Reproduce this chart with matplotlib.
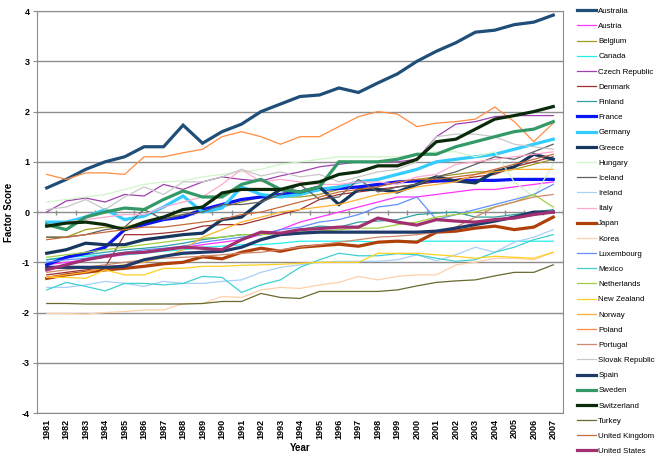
import numpy as np
import matplotlib
matplotlib.use('Agg')
import matplotlib.pyplot as plt

plt.rcParams['font.family'] = ['Liberation Sans', 'DejaVu Sans']

years = [str(y) for y in range(1981, 2008)]

# factor scores per country (1981..2007)
australia = [0.48, 0.65, 0.85, 1.0, 1.1, 1.3, 1.3, 1.73, 1.37, 1.6, 1.75, 2.0, 2.15, 2.3, 2.33, 2.47, 2.38, 2.57, 2.75, 3.0, 3.2, 3.37, 3.58, 3.62, 3.73, 3.78, 3.92]
austria = [-1.05, -1.0, -0.95, -0.9, -0.85, -0.8, -0.75, -0.7, -0.65, -0.6, -0.55, -0.45, -0.35, -0.2, -0.1, 0.0, 0.1, 0.2, 0.3, 0.3, 0.35, 0.4, 0.45, 0.45, 0.5, 0.55, 0.6]
belgium = [-0.5, -0.5, -0.35, -0.3, -0.3, -0.2, -0.1, -0.05, 0.05, 0.1, 0.2, 0.3, 0.3, 0.3, 0.35, 0.45, 0.5, 0.5, 0.6, 0.65, 0.7, 0.75, 0.8, 0.8, 0.85, 0.95, 1.05]
canada = [-0.95, -0.9, -0.88, -0.85, -0.85, -0.82, -0.78, -0.75, -0.7, -0.68, -0.65, -0.65, -0.62, -0.58, -0.58, -0.58, -0.58, -0.6, -0.58, -0.58, -0.58, -0.58, -0.58, -0.58, -0.58, -0.58, -0.58]
czech = [0.0, 0.22, 0.28, 0.2, 0.35, 0.32, 0.55, 0.45, 0.6, 0.7, 0.65, 0.62, 0.72, 0.8, 0.9, 0.95, 1.0, 1.0, 1.0, 1.05, 1.5, 1.75, 1.8, 1.9, 1.92, 1.92, 1.92]
denmark = [-1.25, -1.2, -1.15, -1.1, -0.45, -0.45, -0.42, -0.38, -0.28, -0.25, -0.25, -0.15, -0.05, 0.05, 0.25, 0.35, 0.4, 0.45, 0.5, 0.55, 0.6, 0.65, 0.7, 0.75, 0.9, 1.0, 1.1]
finland = [-0.95, -0.9, -0.85, -0.8, -0.75, -0.72, -0.68, -0.62, -0.55, -0.5, -0.45, -0.45, -0.42, -0.35, -0.28, -0.3, -0.2, -0.18, -0.15, -0.05, -0.02, 0.0, -0.1, -0.1, -0.05, 0.0, 0.05]
france = [-1.05, -0.9, -0.82, -0.7, -0.35, -0.25, -0.15, -0.1, 0.05, 0.15, 0.25, 0.3, 0.35, 0.4, 0.45, 0.47, 0.5, 0.55, 0.6, 0.62, 0.62, 0.62, 0.63, 0.63, 0.65, 0.65, 0.65]
germany = [-0.2, -0.2, -0.1, 0.05, -0.15, -0.08, 0.1, 0.32, 0.0, 0.08, 0.5, 0.35, 0.3, 0.35, 0.45, 0.5, 0.6, 0.65, 0.75, 0.85, 1.0, 1.05, 1.1, 1.15, 1.25, 1.35, 1.45]
greece = [-0.82, -0.75, -0.62, -0.65, -0.65, -0.55, -0.5, -0.45, -0.42, -0.15, -0.1, 0.2, 0.45, 0.4, 0.5, 0.15, 0.45, 0.45, 0.4, 0.55, 0.7, 0.62, 0.58, 0.8, 0.9, 1.15, 1.05]
hungary = [0.2, 0.25, 0.3, 0.35, 0.45, 0.55, 0.6, 0.62, 0.7, 0.75, 0.8, 0.85, 0.95, 1.0, 1.05, 1.1, 1.1, 1.1, 1.1, 1.15, 1.2, 1.2, 1.1, 1.2, 0.6, 0.3, 0.95]
iceland = [-0.5, -0.5, -0.45, -0.35, -0.3, 0.05, -0.15, -0.05, 0.0, 0.15, 0.15, 0.2, 0.35, 0.55, 0.25, 0.3, 0.65, 0.4, 0.5, 0.55, 0.7, 0.8, 0.95, 1.1, 1.05, 1.2, 1.35]
ireland = [-1.5, -1.5, -1.45, -1.38, -1.42, -1.48, -1.38, -1.42, -1.42, -1.38, -1.35, -1.2, -1.1, -1.05, -1.0, -0.98, -0.98, -0.98, -0.95, -0.85, -0.97, -0.85, -0.7, -0.8, -0.6, -0.5, -0.35]
italy = [-0.3, -0.2, -0.15, -0.1, -0.05, -0.05, 0.1, 0.2, 0.3, 0.55, 0.85, 0.6, 0.65, 0.6, 0.55, 0.55, 0.6, 0.6, 0.55, 0.7, 0.75, 0.95, 1.0, 1.05, 1.1, 1.15, 1.2]
japan = [-1.32, -1.25, -1.2, -1.15, -1.12, -1.08, -1.03, -1.0, -0.89, -0.93, -0.8, -0.72, -0.78, -0.7, -0.67, -0.64, -0.68, -0.6, -0.58, -0.6, -0.4, -0.38, -0.32, -0.28, -0.35, -0.3, -0.1]
korea = [-2.02, -2.02, -2.03, -2.0, -1.98, -1.95, -1.95, -1.82, -1.82, -1.68, -1.7, -1.55, -1.5, -1.52, -1.45, -1.4, -1.28, -1.35, -1.28, -1.25, -1.25, -1.05, -1.0, -0.92, -0.92, -0.95, -0.8]
luxembourg = [-1.0, -0.95, -0.92, -0.85, -0.8, -0.75, -0.72, -0.68, -0.6, -0.55, -0.5, -0.45, -0.35, -0.3, -0.2, -0.15, -0.05, 0.1, 0.15, 0.3, -0.15, -0.05, 0.05, 0.15, 0.25, 0.35, 0.55]
mexico = [-1.55, -1.4, -1.48, -1.57, -1.42, -1.42, -1.45, -1.42, -1.28, -1.3, -1.6, -1.45, -1.35, -1.1, -0.95, -0.82, -0.87, -0.87, -0.83, -0.85, -0.92, -0.98, -0.95, -0.8, -0.7, -0.55, -0.45]
netherlands = [-0.9, -0.85, -0.8, -0.75, -0.7, -0.65, -0.6, -0.55, -0.52, -0.5, -0.45, -0.45, -0.42, -0.4, -0.38, -0.35, -0.32, -0.32, -0.25, -0.2, -0.1, -0.05, 0.0, 0.1, 0.2, 0.35, 0.1]
new_zealand = [-1.3, -1.3, -1.32, -1.15, -1.25, -1.25, -1.12, -1.12, -1.08, -1.08, -1.06, -1.05, -1.04, -1.02, -1.0, -1.0, -1.0, -0.82, -0.82, -0.82, -0.85, -0.88, -0.92, -0.88, -0.9, -0.92, -0.8]
norway = [-1.3, -1.25, -1.2, -1.1, -1.05, -1.0, -0.9, -0.75, -0.5, -0.35, -0.2, -0.1, 0.0, 0.05, 0.1, 0.15, 0.25, 0.35, 0.4, 0.5, 0.55, 0.6, 0.75, 0.8, 0.85, 0.85, 0.85]
poland = [0.75, 0.65, 0.78, 0.78, 0.75, 1.1, 1.1, 1.18, 1.25, 1.5, 1.6, 1.5, 1.35, 1.5, 1.5, 1.7, 1.9, 2.0, 1.95, 1.7, 1.77, 1.8, 1.85, 2.09, 1.8, 1.4, 1.77]
portugal = [-1.2, -1.15, -1.1, -1.05, -1.0, -0.95, -0.92, -0.9, -0.88, -0.85, -0.82, -0.8, -0.75, -0.7, -0.65, -0.6, -0.55, -0.5, -0.48, -0.45, -0.4, -0.3, -0.1, 0.1, 0.2, 0.3, 0.35]
slovakia = [0.05, 0.1, 0.25, 0.05, 0.3, 0.5, 0.35, 0.6, 0.6, 0.7, 0.85, 0.72, 0.8, 0.7, 0.75, 0.6, 0.7, 0.8, 0.85, 1.0, 1.5, 1.55, 1.55, 1.5, 1.35, 1.3, 1.25]
spain = [-1.1, -1.1, -1.1, -1.1, -1.08, -0.95, -0.88, -0.82, -0.8, -0.78, -0.7, -0.55, -0.45, -0.42, -0.4, -0.4, -0.4, -0.4, -0.4, -0.4, -0.38, -0.32, -0.25, -0.18, -0.1, 0.0, 0.0]
sweden = [-0.25, -0.35, -0.1, 0.0, 0.08, 0.05, 0.25, 0.42, 0.3, 0.3, 0.55, 0.65, 0.45, 0.4, 0.5, 1.0, 1.0, 1.0, 1.05, 1.15, 1.15, 1.3, 1.4, 1.5, 1.6, 1.65, 1.8]
switzerland = [-0.28, -0.22, -0.2, -0.25, -0.35, -0.2, -0.1, 0.05, 0.1, 0.38, 0.45, 0.45, 0.45, 0.55, 0.6, 0.75, 0.8, 0.92, 0.92, 1.05, 1.4, 1.45, 1.65, 1.85, 1.92, 2.0, 2.1]
turkey = [-1.82, -1.82, -1.83, -1.83, -1.83, -1.83, -1.83, -1.83, -1.82, -1.78, -1.78, -1.62, -1.7, -1.72, -1.58, -1.58, -1.58, -1.58, -1.55, -1.47, -1.4, -1.37, -1.35, -1.27, -1.2, -1.2, -1.05]
uk = [-0.55, -0.5, -0.45, -0.4, -0.35, -0.3, -0.3, -0.25, -0.2, -0.15, -0.05, 0.0, 0.1, 0.2, 0.3, 0.4, 0.45, 0.5, 0.6, 0.65, 0.65, 0.7, 0.75, 0.85, 0.95, 1.05, 1.15]
usa = [-1.15, -1.05, -0.95, -0.88, -0.82, -0.8, -0.75, -0.7, -0.72, -0.75, -0.55, -0.4, -0.42, -0.35, -0.33, -0.3, -0.3, -0.12, -0.2, -0.26, -0.15, -0.18, -0.2, -0.15, -0.12, -0.05, 0.0]

countries = ['Australia', 'Austria', 'Belgium', 'Canada', 'Czech Republic', 'Denmark',
             'Finland', 'France', 'Germany', 'Greece', 'Hungary', 'Iceland', 'Ireland',
             'Italy', 'Japan', 'Korea', 'Luxembourg', 'Mexico', 'Netherlands',
             'New Zealand', 'Norway', 'Poland', 'Portugal', 'Slovak Republic', 'Spain',
             'Sweden', 'Switzerland', 'Turkey', 'United Kingdom', 'United States']
series = [australia, austria, belgium, canada, czech, denmark, finland, france, germany,
          greece, hungary, iceland, ireland, italy, japan, korea, luxembourg, mexico,
          netherlands, new_zealand, norway, poland, portugal, slovakia, spain, sweden,
          switzerland, turkey, uk, usa]

colors = ['#1F4E79', '#FF33FF', '#A09A20', '#22F0F0', '#A040B0', '#A03030',
          '#30A0A0', '#0A14F5', '#33CCFF', '#17365D', '#D0F5C8', '#606060', '#A8D0F8',
          '#FFA8D0', '#B0400A', '#FFD0A8', '#6090FF', '#40D0D0', '#A0D040',
          '#FFD020', '#FFB030', '#FF8C40', '#D08868', '#C8C8C8', '#1F3A6A',
          '#339966', '#0A2A0A', '#6A6A30', '#C86A3A', '#A03070']
thick = {'Australia', 'France', 'Germany', 'Greece', 'Japan', 'Spain', 'Sweden',
         'Switzerland', 'United States'}

fig = plt.figure(figsize=(6.6, 4.62), dpi=100)
ax = fig.add_axes([0.056, 0.106, 0.797, 0.870])

x = np.arange(len(years))
for ax_y in range(-4, 5):
    ax.axhline(ax_y, color='#8C8C8C', lw=1.0, zorder=0)

handles = []
for name, vals, c in zip(countries, series, colors):
    lw = 2.3 if name in thick else 0.9
    h, = ax.plot(x, vals, color=c, lw=lw, label=name, solid_joinstyle='miter')
    handles.append(h)

# category tick marks on the zero line (excel style)
ax.vlines(np.arange(len(years) + 1) - 0.5, -0.05, 0.05, color='#8C8C8C', lw=1.0, zorder=0)

ax.set_xlim(-0.5, len(years) - 0.5)
ax.set_ylim(-4, 4)
ax.set_xticks(x)
ax.set_xticklabels(years, rotation=90, fontsize=6.5, fontweight='bold')
ax.set_yticks(range(-4, 5))
ax.set_yticklabels([str(v) for v in range(-4, 5)], fontsize=6.5, fontweight='bold')
ax.tick_params(axis='both', length=0, pad=4)
ax.tick_params(axis='y', length=3, color='#8C8C8C', pad=2)
for s in ax.spines.values():
    s.set_color('#8C8C8C')
ax.set_ylabel('Factor Score', fontsize=7, fontweight='bold', labelpad=6)
ax.set_xlabel('Year', fontsize=7, fontweight='bold', labelpad=3)

fig.legend(handles=handles, loc='upper left', bbox_to_anchor=(0.874, 0.984),
           frameon=False, fontsize=5.7, handlelength=2.4, handletextpad=0.3,
           labelspacing=0.965, borderaxespad=0, borderpad=0)

fig.savefig('out.png', dpi=100)
